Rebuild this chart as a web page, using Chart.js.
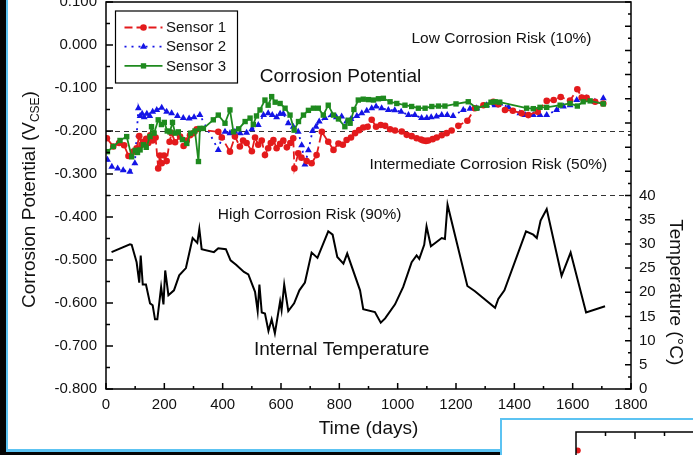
<!DOCTYPE html>
<html>
<head>
<meta charset="utf-8">
<title>Corrosion Potential and Internal Temperature</title>
<script src="https://cdn.jsdelivr.net/npm/chart.js@4.4.0/dist/chart.umd.min.js"></script>
<style>
  html, body { margin: 0; padding: 0; width: 693px; height: 455px; overflow: hidden; background: #050505; }
  #panel { position: absolute; left: 6px; top: 0; width: 687px; height: 452px; box-sizing: border-box;
           border-left: 2px solid #5cc3f2; border-bottom: 3px solid #5cc3f2; background: #fff; overflow: hidden; }
  #panel canvas { position: absolute; left: 0; top: -20px; }
  #inset { position: absolute; left: 500px; top: 418px; width: 193px; height: 37px; box-sizing: border-box;
           border-left: 2px solid #5cc3f2; border-top: 2px solid #5cc3f2; background: #fff; overflow: hidden; }
  #inset canvas { position: absolute; left: 58px; top: 0; }
</style>
</head>
<body>
<div id="panel"><canvas id="chart" width="685" height="472"></canvas></div>
<div id="inset"><canvas id="insetChart" width="140" height="100"></canvas></div>
<script>
// ---- data ----
// Sensor 1 (red, circles)
const s1Days = [3, 25, 45, 62, 77, 94, 105, 114, 122, 128, 138, 145, 152, 160, 170, 179, 185, 191, 199, 208,
  218, 225, 237, 254, 266, 277, 288, 300, 311, 385, 397, 425, 442, 459, 470, 482, 500, 511, 522, 534,
  545, 556, 565, 574, 585, 597, 608, 620, 632, 642, 646, 659, 670, 688, 705, 722, 740, 762, 780, 797,
  812, 825, 840, 854, 868, 882, 897, 911, 926, 942, 957, 974, 991, 1014, 1031, 1048, 1065, 1080, 1088, 1097,
  1105, 1120, 1134, 1151, 1168, 1185, 1208, 1239, 1265, 1294, 1328, 1345, 1368, 1395, 1425, 1448, 1480, 1511, 1535, 1559,
  1591, 1616, 1631, 1648, 1677, 1705];
const s1Vals = [-0.217, -0.236, -0.228, -0.233, -0.258, -0.248, -0.240, -0.212, -0.232, -0.225, -0.218, -0.228, -0.210, -0.222, -0.215, -0.287, -0.257, -0.275, -0.257, -0.270,
  -0.225, -0.205, -0.226, -0.213, -0.235, -0.222, -0.210, -0.205, -0.196, -0.202, -0.215, -0.248, -0.213, -0.236, -0.222, -0.228, -0.247, -0.215, -0.232, -0.222,
  -0.256, -0.240, -0.228, -0.221, -0.240, -0.230, -0.222, -0.238, -0.228, -0.217, -0.287, -0.252, -0.262, -0.270, -0.275, -0.256, -0.202, -0.225, -0.244, -0.229,
  -0.232, -0.221, -0.215, -0.205, -0.198, -0.192, -0.190, -0.174, -0.190, -0.186, -0.188, -0.196, -0.199, -0.201, -0.209, -0.212, -0.217, -0.220, -0.222, -0.223,
  -0.222, -0.219, -0.215, -0.210, -0.205, -0.199, -0.188, -0.176, -0.147, -0.140, -0.132, -0.138, -0.151, -0.153, -0.159, -0.163, -0.155, -0.130, -0.128, -0.121,
  -0.129, -0.103, -0.122, -0.123, -0.132, -0.136];

// Sensor 2 (blue, triangles)
const s2Days = [5, 20, 40, 59, 82, 99, 111, 117, 124, 131, 140, 150, 160, 174, 191, 208, 225, 245, 265, 285,
  302, 322, 385, 397, 408, 425, 442, 460, 482, 500, 522, 540, 556, 570, 585, 597, 608, 625, 642, 659,
  671, 682, 694, 708, 720, 731, 751, 774, 790, 808, 825, 840, 860, 877, 894, 911, 926, 945, 968, 990,
  1012, 1037, 1059, 1082, 1100, 1115, 1133, 1151, 1170, 1190, 1225, 1248, 1271, 1305, 1334, 1351, 1380, 1419, 1437, 1465,
  1488, 1511, 1545, 1568, 1591, 1614, 1631, 1648, 1676, 1705];
const s2Vals = [-0.267, -0.283, -0.287, -0.291, -0.295, -0.275, -0.147, -0.165, -0.160, -0.168, -0.160, -0.165, -0.155, -0.151, -0.146, -0.155, -0.159, -0.165, -0.170, -0.171,
  -0.168, -0.163, -0.244, -0.215, -0.202, -0.205, -0.202, -0.205, -0.204, -0.196, -0.186, -0.163, -0.159, -0.163, -0.168, -0.160, -0.160, -0.182, -0.190, -0.202,
  -0.233, -0.278, -0.245, -0.200, -0.190, -0.178, -0.170, -0.163, -0.168, -0.166, -0.178, -0.172, -0.165, -0.159, -0.153, -0.147, -0.143, -0.147, -0.151, -0.152,
  -0.155, -0.163, -0.163, -0.170, -0.170, -0.168, -0.166, -0.163, -0.163, -0.165, -0.151, -0.148, -0.147, -0.140, -0.140, -0.136, -0.145, -0.159, -0.163, -0.163,
  -0.163, -0.163, -0.151, -0.143, -0.140, -0.128, -0.124, -0.124, -0.132, -0.124];

// Sensor 3 (green, squares)
const s3Days = [5, 25, 48, 71, 88, 100, 108, 117, 128, 138, 151, 156, 165, 179, 190, 200, 210, 219, 228, 237,
  248, 262, 277, 290, 305, 317, 322, 334, 368, 385, 408, 425, 437, 455, 477, 494, 505, 516, 528, 545,
  556, 568, 580, 597, 614, 631, 645, 660, 677, 694, 711, 728, 745, 762, 780, 797, 819, 830, 837, 850,
  865, 882, 900, 917, 934, 951, 974, 997, 1025, 1048, 1071, 1094, 1117, 1140, 1162, 1200, 1242, 1271, 1305, 1320,
  1334, 1350, 1442, 1465, 1488, 1511, 1557, 1591, 1616, 1636, 1660, 1705];
const s3Vals = [-0.248, -0.236, -0.222, -0.213, -0.260, -0.245, -0.250, -0.244, -0.232, -0.238, -0.213, -0.190, -0.205, -0.174, -0.185, -0.180, -0.200, -0.202, -0.180, -0.205,
  -0.202, -0.220, -0.229, -0.205, -0.200, -0.271, -0.194, -0.194, -0.174, -0.163, -0.182, -0.151, -0.202, -0.195, -0.178, -0.170, -0.185, -0.165, -0.151, -0.128,
  -0.140, -0.120, -0.133, -0.136, -0.147, -0.163, -0.198, -0.178, -0.163, -0.152, -0.147, -0.147, -0.163, -0.140, -0.163, -0.172, -0.190, -0.175, -0.182, -0.150,
  -0.128, -0.126, -0.127, -0.128, -0.125, -0.124, -0.132, -0.136, -0.140, -0.143, -0.147, -0.147, -0.143, -0.142, -0.142, -0.137, -0.132, -0.147, -0.140, -0.133,
  -0.132, -0.133, -0.147, -0.148, -0.145, -0.145, -0.140, -0.136, -0.142, -0.132, -0.130, -0.137];

// Internal temperature (black line, right axis, deg C)
const tempDays = [19, 82, 88, 105, 114, 119, 126, 137, 151, 160, 168, 176, 189, 197, 203, 214, 233, 251, 274, 297,
  313, 320, 328, 370, 385, 411, 427, 446, 473, 488, 511, 520, 526, 534, 545, 557, 568, 579, 597, 602,
  611, 625, 645, 663, 682, 705, 725, 762, 777, 793, 814, 827, 871, 882, 922, 942, 957, 991, 1019, 1048,
  1065, 1074, 1091, 1099, 1114, 1151, 1162, 1171, 1239, 1265, 1334, 1345, 1366, 1440, 1465, 1477, 1490, 1511, 1562, 1593,
  1646, 1711];
const tempVals = [28.3, 29.9, 29.8, 26.2, 22.0, 27.6, 21.6, 21.6, 17.7, 17.3, 14.4, 14.4, 21.1, 17.5, 24.5, 19.4, 20.4, 23.5, 25.0, 31.2,
  30.2, 33.1, 28.9, 28.3, 29.1, 28.9, 26.6, 25.7, 24.2, 23.7, 20.1, 16.1, 21.6, 15.8, 15.6, 12.0, 14.4, 11.5, 18.1, 16.3,
  21.6, 16.1, 17.7, 20.4, 22.0, 28.2, 27.1, 32.6, 31.9, 27.3, 25.9, 28.0, 20.4, 16.5, 15.9, 13.7, 14.6, 17.5, 21.1, 26.2,
  27.6, 26.9, 29.8, 33.6, 29.5, 31.2, 31.0, 38.1, 21.3, 20.2, 16.8, 18.6, 20.4, 32.6, 31.9, 31.2, 34.8, 37.2, 23.4, 28.2,
  15.8, 17.1];

// risk thresholds (V_CSE) drawn as dashed lines
const riskLevels = [-0.200, -0.350];

// text labels inside the plot: [text, day, potential, font size]
const notes = [
  ['Low Corrosion Risk (10%)', 1356, 0.015, 15.5],
  ['Corrosion Potential', 804, -0.074, 19],
  ['Intermediate Corrosion Risk (50%)', 1311, -0.279, 15.5],
  ['High Corrosion Risk (90%)', 698, -0.395, 15.5],
  ['Internal Temperature', 808, -0.708, 19]
];

// the corner of the next figure peeking in at the bottom right
const insetX = [0.03];
const insetY = [0.78];

const FONT = "'Liberation Sans', Arial, sans-serif";
const RED = '#e31a1c';
const BLUE = '#1414e6';
const GREEN = '#1e8a1e';

function pts(xs, ys) {
  return xs.map((x, i) => ({ x: x, y: ys[i] }));
}

// frame, inward ticks, dashed thresholds, notes, legend and axis titles
const decor = {
  id: 'decor',
  beforeDatasetsDraw(chart) {
    const c = chart.ctx, a = chart.chartArea, y = chart.scales.y;
    c.save();
    c.strokeStyle = '#333';
    c.lineWidth = 1.2;
    c.setLineDash([5, 4]);
    riskLevels.forEach(v => {
      const py = Math.round(y.getPixelForValue(v)) + 0.5;
      c.beginPath(); c.moveTo(a.left, py); c.lineTo(a.right, py); c.stroke();
    });
    c.restore();
  },
  afterDraw(chart) {
    const c = chart.ctx, a = chart.chartArea;
    const x = chart.scales.x, y = chart.scales.y, yT = chart.scales.yT;
    c.save();
    c.strokeStyle = '#000';
    c.lineWidth = 1.5;
    c.strokeRect(a.left, a.top, a.right - a.left, a.bottom - a.top);

    // inward tick marks
    c.beginPath();
    for (let v = 0; v <= 1800; v += 100) {
      const px = x.getPixelForValue(v), len = v % 200 === 0 ? 6 : 3;
      c.moveTo(px, a.bottom); c.lineTo(px, a.bottom - len);
    }
    for (let i = 0; i <= 18; i++) {
      const v = -0.8 + i * 0.05, py = y.getPixelForValue(v), len = i % 2 === 0 ? 7 : 4;
      c.moveTo(a.left, py); c.lineTo(a.left + len, py);
    }
    for (let v = 0; v <= 80; v += 2.5) {
      const py = yT.getPixelForValue(v), len = v % 5 === 0 ? 6 : 3;
      c.moveTo(a.right, py); c.lineTo(a.right - len, py);
    }
    c.stroke();

    // notes in the plot
    c.fillStyle = '#111';
    c.textAlign = 'center';
    c.textBaseline = 'middle';
    notes.forEach(n => {
      c.font = n[3] + 'px ' + FONT;
      c.fillText(n[0], x.getPixelForValue(n[1]), y.getPixelForValue(n[2]));
    });

    // legend
    const bx = a.left + 9.5, by = a.top + 9, bw = 122, bh = 72;
    c.fillStyle = '#fff';
    c.fillRect(bx, by, bw, bh);
    c.lineWidth = 1.2;
    c.strokeStyle = '#000';
    c.strokeRect(bx, by, bw, bh);
    [0, 1, 2].forEach((idx, row) => {
      const ds = chart.data.datasets[idx];
      const ry = by + 16.5 + row * 19.2;
      c.strokeStyle = ds.borderColor;
      c.fillStyle = ds.borderColor;
      c.lineWidth = ds.borderWidth;
      c.setLineDash(ds.borderDash || []);
      c.beginPath(); c.moveTo(bx + 9, ry); c.lineTo(bx + 47, ry); c.stroke();
      c.setLineDash([]);
      Chart.helpers.drawPoint(c, { pointStyle: ds.pointStyle, radius: ds.pointRadius, rotation: 0, borderWidth: 0 }, bx + 28, ry);
      c.fillStyle = '#111';
      c.textAlign = 'left';
      c.font = '15px ' + FONT;
      c.fillText(ds.label, bx + 50.5, ry + 0.5);
    });

    // axis titles
    c.fillStyle = '#111';
    c.textBaseline = 'alphabetic';
    c.textAlign = 'left';
    // left: Corrosion Potential (V_CSE), rotated
    c.save();
    c.translate(a.left - 71, (a.top + a.bottom) / 2 + 4);
    c.rotate(-Math.PI / 2);
    const mainTxt = 'Corrosion Potential (V', subTxt = 'CSE', endTxt = ')';
    c.font = '19px ' + FONT;
    const w1 = c.measureText(mainTxt).width, w3 = c.measureText(endTxt).width;
    c.font = '12px ' + FONT;
    const w2 = c.measureText(subTxt).width;
    let sx = -(w1 + w2 + w3) / 2;
    c.font = '19px ' + FONT;
    c.fillText(mainTxt, sx, 0);
    c.font = '12px ' + FONT;
    c.fillText(subTxt, sx + w1, 4);
    c.font = '19px ' + FONT;
    c.fillText(endTxt, sx + w1 + w2, 0);
    c.restore();

    // right: Temperature (°C), centred on the 0-40 range
    c.save();
    c.translate(a.right + 39, yT.getPixelForValue(20));
    c.rotate(Math.PI / 2);
    c.textAlign = 'center';
    c.font = '19px ' + FONT;
    c.fillText('Temperature (°C)', 0, 0);
    c.restore();

    // bottom: Time (days)
    c.textAlign = 'center';
    c.textBaseline = 'middle';
    c.font = '19px ' + FONT;
    c.fillText('Time (days)', (a.left + a.right) / 2, a.bottom + 40);
    c.restore();
  }
};

const tickFont = { family: FONT, size: 15 };

new Chart(document.getElementById('chart').getContext('2d'), {
  type: 'line',
  data: {
    datasets: [
      { label: 'Sensor 1', data: pts(s1Days, s1Vals), yAxisID: 'y', order: 1,
        borderColor: RED, backgroundColor: RED, borderWidth: 1.8, borderDash: [8, 4],
        pointStyle: 'circle', pointRadius: 3.3, pointBorderWidth: 0, tension: 0 },
      { label: 'Sensor 2', data: pts(s2Days, s2Vals), yAxisID: 'y', order: 2,
        borderColor: BLUE, backgroundColor: BLUE, borderWidth: 1.8, borderDash: [2, 5],
        pointStyle: 'triangle', pointRadius: 4, pointBorderWidth: 0, tension: 0 },
      { label: 'Sensor 3', data: pts(s3Days, s3Vals), yAxisID: 'y', order: 0,
        borderColor: GREEN, backgroundColor: GREEN, borderWidth: 1.8,
        pointStyle: 'rect', pointRadius: 3.8, pointBorderWidth: 0, tension: 0 },
      { label: 'Internal Temperature', data: pts(tempDays, tempVals), yAxisID: 'yT', order: 3,
        borderColor: '#000', borderWidth: 2, pointRadius: 0, tension: 0 }
    ]
  },
  options: {
    responsive: false,
    animation: false,
    layout: { padding: { top: 22, left: 0, right: 0, bottom: 0 } },
    plugins: { legend: { display: false }, tooltip: { enabled: false } },
    scales: {
      x: {
        type: 'linear', min: 0, max: 1800,
        grid: { display: false, drawTicks: false }, border: { display: false },
        ticks: { stepSize: 200, autoSkip: false, maxRotation: 0, padding: 7, color: '#111', font: tickFont,
                 callback: v => String(v) },
        afterFit: s => { s.height = 63; }
      },
      y: {
        position: 'left', min: -0.8, max: 0.1,
        grid: { display: false, drawTicks: false }, border: { display: false },
        ticks: { stepSize: 0.1, autoSkip: false, padding: 9, color: '#111', font: tickFont,
                 callback: v => Math.abs(v) < 1e-9 ? '0.000' : Number(v).toFixed(3) },
        afterFit: s => { s.width = 98; }
      },
      yT: {
        position: 'right', min: 0, max: 80,
        grid: { display: false, drawTicks: false }, border: { display: false },
        ticks: { stepSize: 5, autoSkip: false, padding: 8, color: '#111', font: tickFont,
                 callback: v => v <= 40 ? String(v) : '' },
        afterFit: s => { s.width = 62; }
      }
    }
  },
  plugins: [decor]
});

// small corner of the neighbouring figure
const insetFrame = {
  id: 'insetFrame',
  afterDraw(chart) {
    const c = chart.ctx, a = chart.chartArea, x = chart.scales.x;
    c.save();
    c.strokeStyle = '#000';
    c.lineWidth = 1.5;
    c.beginPath();
    c.moveTo(a.left, a.bottom); c.lineTo(a.left, a.top); c.lineTo(a.right, a.top);
    for (let v = 0.5; v <= 2; v += 0.5) {
      const px = x.getPixelForValue(v), len = v % 1 === 0 ? 7 : 4;
      c.moveTo(px, a.top); c.lineTo(px, a.top + len);
    }
    c.stroke();
    c.restore();
  }
};

new Chart(document.getElementById('insetChart').getContext('2d'), {
  type: 'scatter',
  data: { datasets: [{ data: pts(insetX, insetY), backgroundColor: RED, pointRadius: 3, borderWidth: 0 }] },
  options: {
    responsive: false,
    animation: false,
    layout: { padding: { left: 16, top: 12, right: 6, bottom: 0 } },
    plugins: { legend: { display: false }, tooltip: { enabled: false } },
    scales: { x: { display: false, min: 0, max: 2 }, y: { display: false, min: 0, max: 1 } }
  },
  plugins: [insetFrame]
});
</script>
</body>
</html>
